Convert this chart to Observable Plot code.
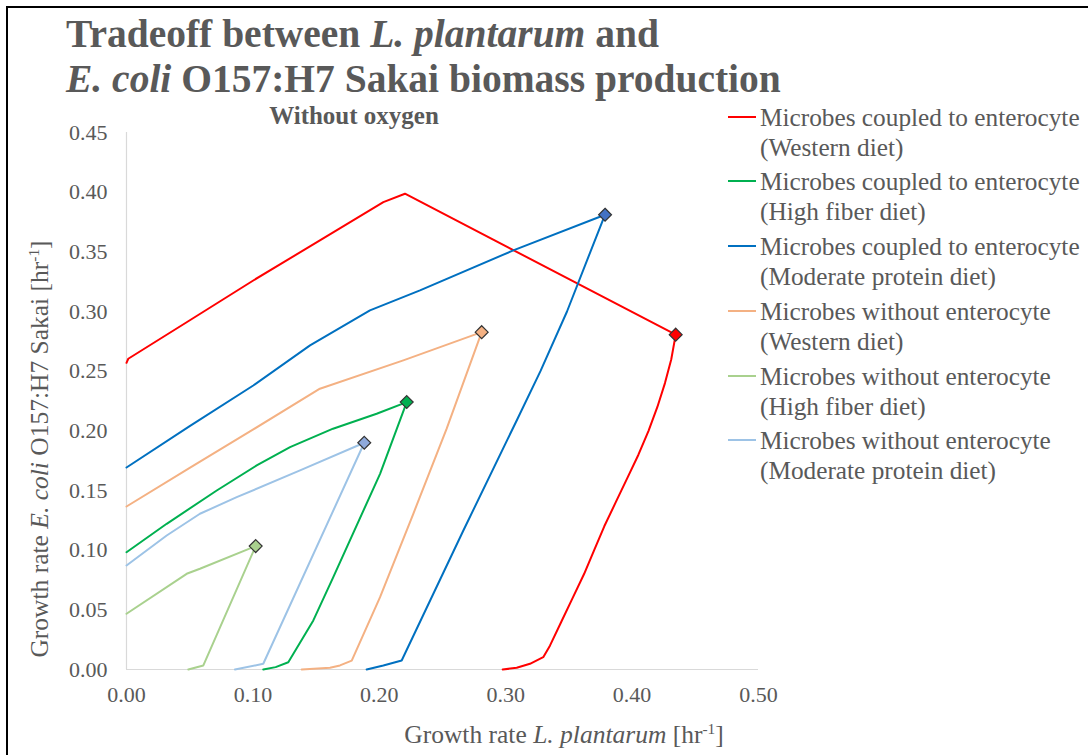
<!DOCTYPE html>
<html>
<head>
<meta charset="utf-8">
<script src="https://cdn.jsdelivr.net/npm/d3@7"></script>
<script src="https://cdn.jsdelivr.net/npm/@observablehq/plot@0.6"></script>
<style>
  body { margin: 0; background: #fff; }
  #wrap { position: relative; width: 1088px; height: 755px; overflow: hidden; background: #fff;
          font-family: "Liberation Serif", "Times New Roman", serif; color: #595959; }
  #frame { position: absolute; left: 6px; top: 6px; width: 1200px; height: 900px; border: 2px solid #000; box-sizing: border-box; }
  #title { position: absolute; left: 66px; top: 12px; font-size: 39.5px; font-weight: bold; line-height: 45px; white-space: nowrap; }
  #subtitle { position: absolute; left: 354px; top: 116px; transform: translate(-50%, -50%); font-size: 25px; font-weight: bold; white-space: nowrap; }
  #ylabel { position: absolute; left: 40px; top: 449px; transform: translate(-50%, -50%) rotate(-90deg); font-size: 25.5px; white-space: nowrap; }
  #xlabel { position: absolute; left: 564px; top: 735px; transform: translate(-50%, -50%); font-size: 25.5px; white-space: nowrap; }
  sup { font-size: 0.6em; vertical-align: 0.6em; line-height: 0; }
  #chart { position: absolute; left: 0; top: 0; }
  .leg { position: absolute; left: 728px; }
  .leg .sw { position: absolute; left: 0; top: 14px; width: 28px; height: 2px; }
  .leg .tx { position: absolute; left: 32px; top: 0; font-size: 25.3px; line-height: 30px; white-space: nowrap; }
</style>
</head>
<body>
<div id="wrap">
  <div id="chart"></div>
  <div id="frame"></div>
  <div id="title">Tradeoff between <i>L. plantarum</i> and<br><i>E. coli</i> O157:H7 Sakai biomass production</div>
  <div id="subtitle">Without oxygen</div>
  <div id="ylabel">Growth rate <i>E. coli</i> O157:H7 Sakai [hr<sup>-1</sup>]</div>
  <div id="xlabel">Growth rate <i>L. plantarum</i> [hr<sup>-1</sup>]</div>
  <div id="legend"></div>
</div>
<script>
// ---- data ----
const seriesNames = [
  "Microbes coupled to enterocyte (Western diet)",
  "Microbes coupled to enterocyte (High fiber diet)",
  "Microbes coupled to enterocyte (Moderate protein diet)",
  "Microbes without enterocyte (Western diet)",
  "Microbes without enterocyte (High fiber diet)",
  "Microbes without enterocyte (Moderate protein diet)"
];
const legendLine1 = ["Microbes coupled to enterocyte", "Microbes coupled to enterocyte", "Microbes coupled to enterocyte",
  "Microbes without enterocyte", "Microbes without enterocyte", "Microbes without enterocyte"];
const legendLine2 = ["(Western diet)", "(High fiber diet)", "(Moderate protein diet)",
  "(Western diet)", "(High fiber diet)", "(Moderate protein diet)"];
const lineColors = ["#FF0000", "#00B050", "#0070C0", "#F4B183", "#A9D18E", "#9DC3E6"];
const markerColors = ["#FF0000", "#00B050", "#4472C4", "#F4B183", "#A9D18E", "#8FAADC"];

const westernCoupledX = [0, 0.0014, 0.0476, 0.1003, 0.153, 0.2032, 0.2203, 0.4345, 0.431, 0.426, 0.420, 0.413, 0.405, 0.396, 0.387, 0.378, 0.370, 0.362, 0.353, 0.344, 0.335, 0.3297, 0.3192, 0.3087, 0.2976];
const westernCoupledY = [0.257, 0.2604, 0.291, 0.326, 0.3596, 0.3917, 0.3987, 0.2806, 0.26, 0.24, 0.22, 0.20, 0.18, 0.16, 0.14, 0.12, 0.10, 0.08, 0.06, 0.04, 0.02, 0.0103, 0.0048, 0.0014, 0];

const fiberCoupledX = [0, 0.0318, 0.0714, 0.103, 0.1294, 0.1634, 0.1979, 0.2217, 0.2006, 0.1636, 0.1478, 0.128, 0.118, 0.1082];
const fiberCoupledY = [0.0983, 0.1221, 0.150, 0.171, 0.1863, 0.2018, 0.2143, 0.2241, 0.164, 0.0774, 0.0411, 0.0061, 0.002, 0];

const proteinCoupledX = [0, 0.05, 0.1003, 0.1452, 0.1926, 0.2322, 0.306, 0.3786, 0.367, 0.3485, 0.3275, 0.3087, 0.2665, 0.2177, 0.2032, 0.19];
const proteinCoupledY = [0.1693, 0.204, 0.238, 0.2716, 0.3009, 0.3177, 0.3512, 0.3811, 0.35, 0.30, 0.25, 0.2087, 0.1165, 0.0075, 0.0034, 0];

const westernAloneX = [0, 0.05, 0.10, 0.153, 0.219, 0.281, 0.2533, 0.2269, 0.2006, 0.1782, 0.1689, 0.161, 0.1386];
const westernAloneY = [0.1366, 0.169, 0.201, 0.2353, 0.259, 0.2827, 0.2018, 0.1305, 0.0606, 0.0075, 0.0034, 0.0014, 0];

const fiberAloneX = [0, 0.0476, 0.0581, 0.1022, 0.0608, 0.0489];
const fiberAloneY = [0.0467, 0.0802, 0.0844, 0.1034, 0.0034, 0];

const proteinAloneX = [0, 0.0318, 0.0581, 0.0872, 0.1373, 0.1881, 0.1082, 0.0858];
const proteinAloneY = [0.0872, 0.1123, 0.1305, 0.1444, 0.1668, 0.19, 0.0048, 0];

const xTicks = [0, 0.1, 0.2, 0.3, 0.4, 0.5];
const yTicks = [0, 0.05, 0.1, 0.15, 0.2, 0.25, 0.3, 0.35, 0.4, 0.45];

// ---- build table ----
const seriesX = [westernCoupledX, fiberCoupledX, proteinCoupledX, westernAloneX, fiberAloneX, proteinAloneX];
const seriesY = [westernCoupledY, fiberCoupledY, proteinCoupledY, westernAloneY, fiberAloneY, proteinAloneY];
const rows = [];
const peaks = [];
seriesNames.forEach((name, i) => {
  const pts = seriesX[i].map((x, j) => ({series: name, x, y: seriesY[i][j], color: lineColors[i], mcolor: markerColors[i]}));
  rows.push(...pts);
  peaks.push(d3.greatest(pts, d => d.x));
});

const fmt = d3.format(".2f");
const chart = Plot.plot({
  width: 1088,
  height: 755,
  marginLeft: 126,
  marginRight: 330,
  marginTop: 132,
  marginBottom: 86,
  style: {fontFamily: '"Liberation Serif", "Times New Roman", serif', fontSize: "22px", color: "#595959", background: "transparent"},
  x: {domain: [0, 0.5]},
  y: {domain: [0, 0.45]},
  marks: [
    Plot.ruleX([0], {stroke: "#d9d9d9", strokeWidth: 1.2}),
    Plot.ruleY([0], {stroke: "#d9d9d9", strokeWidth: 1.2}),
    Plot.axisX({ticks: xTicks, tickFormat: fmt, tickSize: 0, tickPadding: 17, label: null, fontSize: 22}),
    Plot.axisY({ticks: yTicks, tickFormat: fmt, tickSize: 0, tickPadding: 19, label: null, fontSize: 22}),
    Plot.line(rows, {x: "x", y: "y", z: "series", stroke: "color", strokeWidth: 2}),
    Plot.dot(peaks, {x: "x", y: "y", symbol: "diamond2", r: 5.8, fill: "mcolor", stroke: "#333", strokeWidth: 1.2})
  ]
});
document.getElementById("chart").appendChild(chart);

// ---- legend ----
const legend = document.getElementById("legend");
seriesNames.forEach((name, i) => {
  const e = document.createElement("div");
  e.className = "leg";
  e.style.top = (101.7 + 64.7 * i) + "px";
  e.innerHTML = `<div class="sw" style="background:${lineColors[i]}"></div><div class="tx">${legendLine1[i]}<br>${legendLine2[i]}</div>`;
  legend.appendChild(e);
});
</script>
</body>
</html>
